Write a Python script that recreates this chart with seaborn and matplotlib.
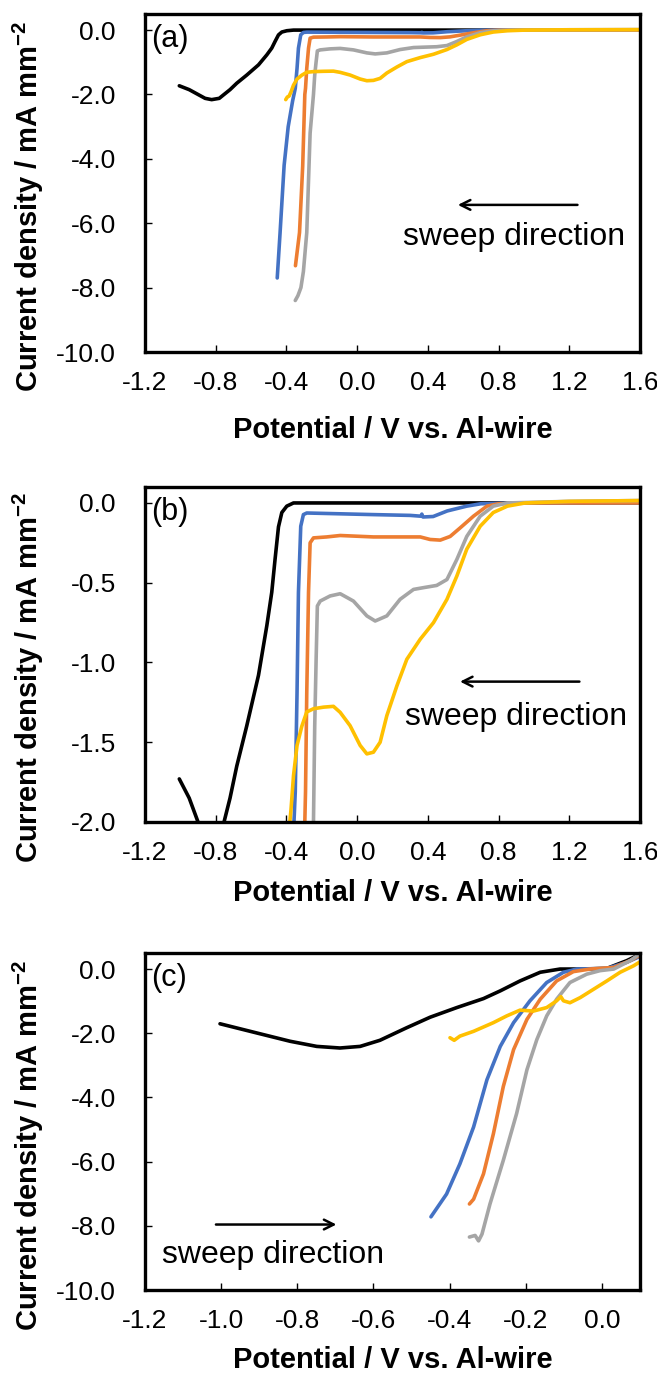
import matplotlib
matplotlib.use("Agg")
import matplotlib.pyplot as plt
import seaborn as sns
import pandas as pd
from matplotlib.ticker import FormatStrFormatter

# ---------------- data: panels (a) and (b) (same sweep, different y range) ----------------
ab_black_v = [-1.006, -0.95, -0.90, -0.86, -0.823, -0.78, -0.753, -0.719, -0.681, -0.625, -0.558,
              -0.511, -0.483, -0.464, -0.445, -0.426, -0.398, -0.36, 0.0, 0.8, 1.6]
ab_black_i = [-1.73, -1.85, -2.0, -2.12, -2.16, -2.12, -2.0, -1.85, -1.65, -1.40, -1.08,
              -0.77, -0.56, -0.35, -0.15, -0.06, -0.02, 0.0, 0.0, 0.0, 0.0]

ab_blue_v = [-0.452, -0.436, -0.413, -0.39, -0.365, -0.35, -0.34, -0.332, -0.319, -0.304, -0.285,
             0.09, 0.30, 0.36, 0.366, 0.372, 0.43, 0.51, 0.62, 0.70, 0.90, 1.6]
ab_blue_i = [-7.7, -6.3, -4.2, -3.0, -2.2, -1.81, -1.19, -0.56, -0.146, -0.073, -0.063,
             -0.073, -0.078, -0.083, -0.07, -0.088, -0.085, -0.05, -0.02, -0.005, 0.0, 0.0]

ab_orange_v = [-0.349, -0.326, -0.308, -0.296, -0.292, -0.285, -0.275, -0.266, -0.247, -0.172, -0.096,
               0.092, 0.357, 0.413, 0.47, 0.526, 0.583, 0.658, 0.734, 0.80, 1.0, 1.6]
ab_orange_i = [-7.32, -6.29, -4.23, -2.0, -1.81, -1.19, -0.56, -0.25, -0.219, -0.213, -0.204,
               -0.213, -0.213, -0.229, -0.233, -0.21, -0.156, -0.083, -0.02, -0.005, 0.0, 0.0]

ab_gray_v = [-0.35, -0.335, -0.318, -0.304, -0.285, -0.266, -0.247, -0.24, -0.232, -0.225, -0.209,
             -0.153, -0.096, -0.021, 0.055, 0.102, 0.168, 0.243, 0.319, 0.375, 0.45, 0.508,
             0.564, 0.62, 0.696, 0.77, 0.85, 1.2, 1.6]
ab_gray_i = [-8.4, -8.25, -8.0, -7.5, -6.29, -3.2, -2.0, -1.40, -0.98, -0.646, -0.615,
             -0.583, -0.569, -0.615, -0.708, -0.74, -0.708, -0.604, -0.542, -0.531, -0.517, -0.48,
             -0.354, -0.21, -0.083, -0.02, 0.0, 0.01, 0.015]

ab_yellow_v = [-0.404, -0.395, -0.385, -0.374, -0.36, -0.34, -0.313, -0.285, -0.247, -0.19, -0.134,
               -0.096, -0.04, 0.017, 0.055, 0.092, 0.13, 0.168, 0.225, 0.281, 0.357, 0.432,
               0.508, 0.564, 0.62, 0.696, 0.77, 0.85, 0.95, 1.2, 1.6]
ab_yellow_i = [-2.16, -2.08, -2.05, -1.92, -1.71, -1.52, -1.40, -1.31, -1.29, -1.28, -1.275,
               -1.3125, -1.396, -1.52, -1.573, -1.5625, -1.5, -1.333, -1.146, -0.98, -0.854, -0.75,
               -0.604, -0.458, -0.29, -0.146, -0.06, -0.02, 0.0, 0.01, 0.015]

# ---------------- data: panel (c) (forward sweep) ----------------
c_black_v = [-1.003, -0.907, -0.819, -0.749, -0.688, -0.635, -0.583, -0.513, -0.451, -0.381, -0.311,
             -0.267, -0.215, -0.162, -0.11, -0.057, 0.013, 0.065, 0.105]
c_black_i = [-1.705, -1.99, -2.25, -2.41, -2.46, -2.41, -2.22, -1.83, -1.50, -1.20, -0.92,
             -0.68, -0.37, -0.10, 0.0, 0.0, 0.02, 0.26, 0.49]

c_blue_v = [-0.449, -0.408, -0.373, -0.337, -0.302, -0.267, -0.232, -0.189, -0.145, -0.101, -0.066,
            0.013, 0.065, 0.105]
c_blue_i = [-7.72, -7.01, -6.07, -4.92, -3.45, -2.41, -1.67, -0.99, -0.42, -0.10, 0.0,
            0.02, 0.21, 0.42]

c_orange_v = [-0.348, -0.337, -0.311, -0.285, -0.259, -0.232, -0.197, -0.162, -0.119, -0.075, -0.031,
              0.031, 0.074, 0.105]
c_orange_i = [-7.32, -7.17, -6.38, -5.13, -3.66, -2.51, -1.57, -0.94, -0.37, -0.08, 0.0,
              0.05, 0.26, 0.47]

c_gray_v = [-0.348, -0.333, -0.324, -0.315, -0.294, -0.259, -0.224, -0.197, -0.171, -0.145, -0.119,
            -0.084, -0.04, -0.005, 0.031, 0.074, 0.105]
c_gray_i = [-8.35, -8.30, -8.47, -8.26, -7.32, -5.96, -4.50, -3.14, -2.20, -1.46, -0.94,
            -0.42, -0.16, -0.05, 0.0, 0.26, 0.52]

c_yellow_v = [-0.399, -0.388, -0.373, -0.337, -0.285, -0.25, -0.215, -0.18, -0.145, -0.119, -0.108,
              -0.101, -0.084, -0.057, -0.022, 0.013, 0.048, 0.083, 0.105]
c_yellow_i = [-2.14, -2.22, -2.09, -1.94, -1.67, -1.46, -1.28, -1.31, -1.20, -0.99, -0.86,
              -0.99, -1.05, -0.89, -0.63, -0.37, -0.10, 0.10, 0.26]

series_names = ["black", "blue", "orange", "gray", "yellow"]
series_colors = ["#000000", "#4472C4", "#ED7D31", "#A5A5A5", "#FFC000"]

ab_x_ticks = [-1.2, -0.8, -0.4, 0.0, 0.4, 0.8, 1.2, 1.6]
a_y_ticks = [0.0, -2.0, -4.0, -6.0, -8.0, -10.0]
b_y_ticks = [0.0, -0.5, -1.0, -1.5, -2.0]
c_x_ticks = [-1.2, -1.0, -0.8, -0.6, -0.4, -0.2, 0.0]
c_y_ticks = [0.0, -2.0, -4.0, -6.0, -8.0, -10.0]

xlabel_text = "Potential / V vs. Al-wire"
ylabel_text = "Current density / mA mm$^{\\mathbf{-2}}$"
sweep_text = "sweep direction"
panel_labels = ["(a)", "(b)", "(c)"]


def make_df(vs, is_):
    rows = []
    for name, v, i in zip(series_names, vs, is_):
        for k, (xv, yv) in enumerate(zip(v, i)):
            rows.append({"series": name, "order": k, "E": xv, "J": yv})
    return pd.DataFrame(rows)


df_ab = make_df([ab_black_v, ab_blue_v, ab_orange_v, ab_gray_v, ab_yellow_v],
                [ab_black_i, ab_blue_i, ab_orange_i, ab_gray_i, ab_yellow_i])
df_c = make_df([c_black_v, c_blue_v, c_orange_v, c_gray_v, c_yellow_v],
               [c_black_i, c_blue_i, c_orange_i, c_gray_i, c_yellow_i])

sns.set_style("ticks")
plt.rcParams["font.family"] = ["Liberation Sans", "DejaVu Sans"]
plt.rcParams["axes.unicode_minus"] = False
plt.rcParams["mathtext.fontset"] = "custom"
plt.rcParams["mathtext.rm"] = "Liberation Sans"
plt.rcParams["mathtext.bf"] = "Liberation Sans:bold"
for key in ["text.color", "axes.labelcolor", "xtick.color", "ytick.color"]:
    plt.rcParams[key] = "black"

W, H = 657, 1374
fig = plt.figure(figsize=(W / 100, H / 100), dpi=100)

left, right = 145 / W, 640 / W
boxes = [(14, 352), (487, 822), (953, 1290)]
axes = []
for top_px, bot_px in boxes:
    ax = fig.add_axes([left, 1 - bot_px / H, right - left, (bot_px - top_px) / H])
    axes.append(ax)

palette = dict(zip(series_names, series_colors))
TICK_FS = 19
LABEL_FS = 21
SWEEP_FS = 23
PANEL_FS = 22


def style(ax, xticks, yticks, xlim, ylim, xlabelpad):
    ax.set_xlim(*xlim)
    ax.set_ylim(*ylim)
    ax.set_xticks(xticks)
    ax.set_yticks(yticks)
    ax.xaxis.set_major_formatter(FormatStrFormatter("%.1f"))
    ax.yaxis.set_major_formatter(FormatStrFormatter("%.1f"))
    ax.tick_params(direction="in", length=5, width=1, labelsize=TICK_FS,
                   top=False, right=False, colors="black")
    ax.tick_params(axis="y", pad=21)
    ax.tick_params(axis="x", pad=14)
    for sp in ax.spines.values():
        sp.set_visible(True)
        sp.set_linewidth(2.4)
        sp.set_color("black")
    ax.set_xlabel(xlabel_text, fontsize=LABEL_FS, fontweight="bold", labelpad=xlabelpad)
    ax.set_ylabel(ylabel_text, fontsize=LABEL_FS, fontweight="bold")
    if ax.get_legend() is not None:
        ax.get_legend().remove()


for ax, df in [(axes[0], df_ab), (axes[1], df_ab), (axes[2], df_c)]:
    sns.lineplot(data=df, x="E", y="J", hue="series", units="series", estimator=None,
                 sort=False, palette=palette, linewidth=2.6, legend=False, ax=ax)

style(axes[0], ab_x_ticks, a_y_ticks, (-1.2, 1.6), (-10.0, 0.5), 15)
style(axes[1], ab_x_ticks, b_y_ticks, (-1.2, 1.6), (-2.0, 0.1), 10)
style(axes[2], c_x_ticks, c_y_ticks, (-1.2, 0.1), (-10.0, 0.5), 9)

for ax, lab in zip(axes, panel_labels):
    ax.text(0.012, 0.925, lab, transform=ax.transAxes, fontsize=PANEL_FS, ha="left", va="center")

arrowprops = dict(arrowstyle="->,head_length=0.7,head_width=0.35", lw=1.8, color="black")
# (a)
axes[0].annotate("", xy=(0.554, -5.43), xytext=(1.262, -5.43), arrowprops=arrowprops)
axes[0].text(0.26, -6.43, sweep_text, fontsize=SWEEP_FS, ha="left", va="center")
# (b)
axes[1].annotate("", xy=(0.566, -1.12), xytext=(1.273, -1.12), arrowprops=arrowprops)
axes[1].text(0.27, -1.34, sweep_text, fontsize=SWEEP_FS, ha="left", va="center")
# (c)
axes[2].annotate("", xy=(-0.69, -7.96), xytext=(-1.021, -7.96), arrowprops=arrowprops)
axes[2].text(-1.155, -8.9, sweep_text, fontsize=SWEEP_FS, ha="left", va="center")

for ax in axes:
    ax.yaxis.set_label_coords(-0.2, 0.43)

fig.savefig("out.png", dpi=100)
